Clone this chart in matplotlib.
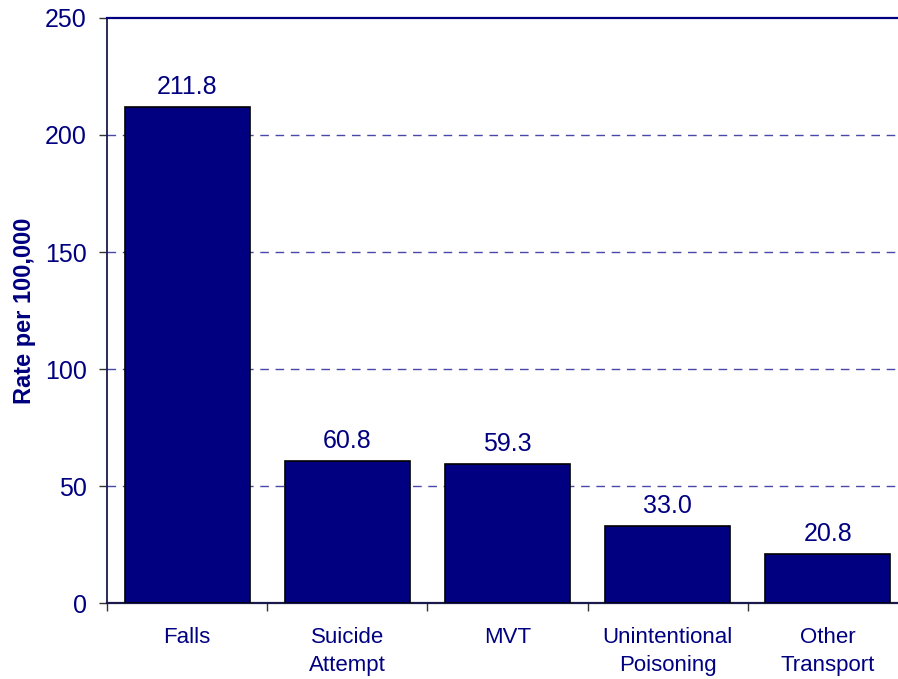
#!/usr/bin/env python3

import matplotlib.pyplot as plt

categories = ["Falls", "Suicide\nAttempt", "MVT", "Unintentional\nPoisoning", "Other\nTransport"]
rates = [211.8, 60.8, 59.3, 33.0, 20.8]
y_ticks = [0, 50, 100, 150, 200, 250]

navy = "#000080"
plt.rcParams['font.family'] = ['Liberation Sans', 'DejaVu Sans']

fig = plt.figure(figsize=(8.98, 6.79), dpi=100)
ax = fig.add_axes([0.1192, 0.1119, 0.8918, 0.8616])

x = range(len(categories))
bars = ax.bar(x, rates, width=0.78, color=navy, edgecolor="black", linewidth=1.2, zorder=3)

for xi, val in zip(x, rates):
    ax.annotate(f"{val:.1f}", (xi, val), xytext=(0, 9.5), textcoords="offset points",
                ha="center", va="baseline", fontsize=18, color=navy)

ax.set_xlim(-0.5, len(categories) - 0.5)
ax.set_ylim(0, 250)
ax.set_yticks(y_ticks)
ax.set_yticklabels([str(t) for t in y_ticks])
for t in y_ticks[1:-1]:
    ax.axhline(t, color="#4848a8", linewidth=1.0, linestyle=(0, (6.2, 4.8)), zorder=1)

ax.set_xticks(list(x))
ax.set_xticklabels(categories, linespacing=1.45)
ax.set_xticks([i - 0.5 for i in range(len(categories) + 1)], minor=True)
ax.tick_params(axis="x", which="major", length=0, pad=17, labelsize=16, labelcolor=navy)
ax.tick_params(axis="x", which="minor", length=6, width=1.0, color="#333333", direction="out")
ax.tick_params(axis="y", length=6, width=1.0, color="#333333", direction="out", pad=8.5,
               labelsize=18, labelcolor=navy)

ax.set_ylabel("Rate per 100,000", fontsize=17, fontweight="bold", color=navy)
ax.yaxis.set_label_coords(-0.089, 0.5)

ax.spines["right"].set_visible(False)
ax.spines["top"].set_color(navy)
ax.spines["top"].set_linewidth(1.6)
ax.spines["left"].set_color("#1a1a4a")
ax.spines["left"].set_linewidth(1.3)
ax.spines["bottom"].set_color("#1a1a4a")
ax.spines["bottom"].set_linewidth(1.6)

plt.savefig("out.png", dpi=100)
